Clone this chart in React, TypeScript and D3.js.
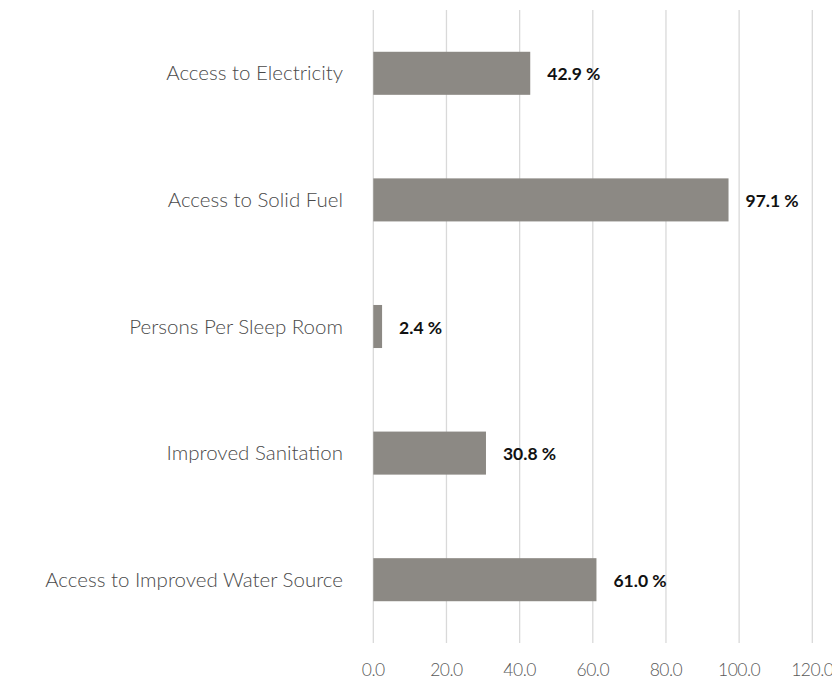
import React from "react";
import * as d3 from "d3";

// Housing indicators, top to bottom
const categories = [
  "Access to Electricity",
  "Access to Solid Fuel",
  "Persons Per Sleep Room",
  "Improved Sanitation",
  "Access to Improved Water Source",
];
const values = [42.9, 97.1, 2.4, 30.8, 61.0];
const tickValues = [0, 20, 40, 60, 80, 100, 120];

const WIDTH = 832;
const HEIGHT = 681;
const FONT = "Lato, 'Open Sans', sans-serif";

export default function App() {
  const x = d3.scaleLinear().domain([0, 120]).range([373.3, 812.3]);
  const y = d3
    .scaleBand<string>()
    .domain(categories)
    .range([10, 643])
    .paddingInner(0.66)
    .paddingOuter(0.33);
  const fmt = d3.format(".1f");
  const [gridTop, gridBottom] = y.range();

  return (
    <svg
      width={WIDTH}
      height={HEIGHT}
      style={{ position: "absolute", left: 0, top: 0, background: "#fff" }}
    >
      {/* vertical gridlines */}
      {tickValues.map((t) => (
        <line
          key={`g${t}`}
          x1={x(t)}
          x2={x(t)}
          y1={gridTop}
          y2={gridBottom}
          stroke="#d9d9d9"
          strokeWidth={1.3}
        />
      ))}
      {/* x tick labels */}
      {tickValues.map((t) => (
        <text
          key={`t${t}`}
          x={x(t)}
          y={676}
          textAnchor="middle"
          fontFamily={FONT}
          fontWeight={300}
          fontSize={17.5}
          letterSpacing={-0.5}
          fill="#595959"
        >
          {fmt(t)}
        </text>
      ))}
      {/* bars */}
      {categories.map((c, i) => (
        <rect
          key={`b${c}`}
          x={x(0)}
          y={y(c)!}
          width={x(values[i]) - x(0)}
          height={y.bandwidth()}
          fill="#8c8984"
        />
      ))}
      {/* category labels */}
      {categories.map((c) => (
        <text
          key={`c${c}`}
          x={343}
          y={y(c)! + y.bandwidth() / 2}
          dy="0.35em"
          textAnchor="end"
          fontFamily={FONT}
          fontWeight={300}
          fontSize={20.5}
          fill="#4a4a4a"
        >
          {c}
        </text>
      ))}
      {/* value labels */}
      {categories.map((c, i) => (
        <text
          key={`v${c}`}
          x={x(values[i]) + 17}
          y={y(c)! + y.bandwidth() / 2}
          dy="0.4em"
          fontFamily={FONT}
          fontWeight={700}
          fontSize={17.5}
          fill="#111"
        >
          {`${fmt(values[i])} %`}
        </text>
      ))}
    </svg>
  );
}
